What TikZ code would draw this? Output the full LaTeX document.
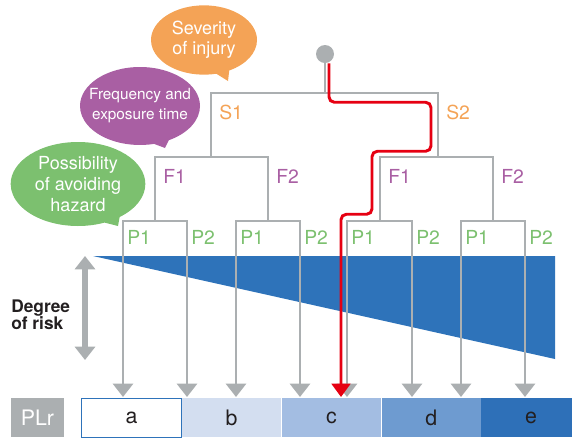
\documentclass[tikz,border=0pt]{standalone}
\usepackage{fontspec}
\setmainfont{TeX Gyre Heros}
\usetikzlibrary{arrows.meta,shapes,positioning}

\definecolor{treegray}{HTML}{ABAFB1}
\definecolor{sevorange}{HTML}{F4A356}
\definecolor{freqpurple}{HTML}{A95FA3}
\definecolor{avoidgreen}{HTML}{7CC06F}
\definecolor{riskblue}{HTML}{2E73BA}
\definecolor{plb}{HTML}{D3DEF0}
\definecolor{plc}{HTML}{A3BDE2}
\definecolor{pld}{HTML}{6E9BD0}
\definecolor{ple}{HTML}{2E70B8}
\definecolor{pathred}{HTML}{E60012}
\definecolor{inkblack}{HTML}{231F20}

\begin{document}
\begin{tikzpicture}[x=0.75pt, y=-0.75pt,
	branch/.style = {draw=treegray, line width=2pt},
	leaf/.style   = {branch, -{Triangle[width=15pt, length=10pt]}},
	bubble/.style = {ellipse callout, fill=#1, text=white, inner sep=-20pt, align=center},
	choice/.style = {text=#1, font=\fontsize{14.5}{14.5}\selectfont, inner sep=0pt, anchor=west},
	plbox/.style  = {minimum width=74.5pt, minimum height=29.25pt, inner sep=0pt, text=inkblack, font=\fontsize{16}{16}\selectfont},
	redpath/.style = {draw=pathred, line width=2.2pt, rounded corners=4pt, -{Triangle[width=14pt, length=10pt]}}
	]
	\useasboundingbox (0,0) rectangle (572,437);

	% degree of risk wedge
	\fill[riskblue] (93,256) -- (555,256) -- (555,359) -- cycle;
	\coordinate (risktop) at (85,256);
	\coordinate (riskbot) at (85,360);
	\draw[treegray, line width=5pt, {Triangle[width=15pt, length=10pt]}-{Triangle[width=15pt, length=10pt]}] (risktop) -- (riskbot);
	\node[text=inkblack, font=\bfseries\fontsize{13}{13}\selectfont, align=left, anchor=west, inner sep=0pt] (degree) at (11,315) {Degree\\of risk};

	% root and junctions of the tree
	\node[circle, fill=treegray, minimum size=13.5pt, inner sep=0pt] (root) at (325,54) {};
	\coordinate (s)   at (325,93);
	\coordinate (s1)  at (211,157);
	\coordinate (s2)  at (438,157);
	\coordinate (f11) at (155,221);
	\coordinate (f12) at (268,221);
	\coordinate (f21) at (380,221);
	\coordinate (f22) at (493,221);

	\draw[branch] (root) -- (s);
	\draw[branch] (s1) |- (s) -| (s2);
	\draw[branch] (f11) |- (s1) -| (f12);
	\draw[branch] (f21) |- (s2) -| (f22);

	% P1 / P2 leaves, arrows down to the PLr scale
	\foreach \f/\l/\r in {f11/123/187, f12/236/300, f21/347/412, f22/461/525} {
		\coordinate (\f p1) at (\l,397);
		\coordinate (\f p2) at (\r,397);
		\draw[leaf] (\f) -| (\f p1);
		\draw[leaf] (\f) -| (\f p2);
		\node[choice=avoidgreen] (lab\f p1) at (\l+4,237) {P1};
		\node[choice=avoidgreen] (lab\f p2) at (\r+4,237) {P2};
	}

	% branch labels
	\node[choice=sevorange] (labs1) at (219,112) {S1};
	\node[choice=sevorange] (labs2) at (446,112) {S2};
	\foreach \x/\t [count=\i] in {163/F1, 276/F2, 388/F1, 501/F2}
		\node[choice=freqpurple] (labf\i) at (\x,176) {\t};

	% the selected route
	\coordinate (hit) at (341,397);
	\draw[redpath] ([xshift=3pt]root.south) -- ++(0,39) -| ++(102,49) -| ++(-59,63) -| (hit);

	% parameter bubbles
	\node[bubble=sevorange, minimum width=79.5pt, minimum height=52pt, callout absolute pointer={(228,81)}, font=\fontsize{13.5}{15}\selectfont] (severity) at (204,40) {Severity\\of injury};
	\node[bubble=freqpurple, minimum width=90pt, minimum height=58.5pt, callout absolute pointer={(165,148)}, font=\fontsize{11.5}{15}\selectfont] (frequency) at (140,106) {Frequency and\\exposure time};
	\node[bubble=avoidgreen, minimum width=101pt, minimum height=63pt, callout absolute pointer={(118,226)}, font=\fontsize{13.5}{15.75}\selectfont] (avoid) at (78,184) {Possibility\\of avoiding\\hazard};

	% PLr scale
	\node[plbox, fill=treegray, text=white, minimum width=39.75pt] (plr) at (37.5,417.5) {PLr};
	\node[plbox, fill=white, draw=riskblue, line width=0.6pt] (pla) at (131.5,417.5) {a};
	\node[plbox, fill=plb, right=0pt of pla] (plb) {b};
	\node[plbox, fill=plc, right=0pt of plb] (plc) {c};
	\node[plbox, fill=pld, right=0pt of plc] (pld) {d};
	\node[plbox, fill=ple, right=0pt of pld] (ple) {e};
\end{tikzpicture}
\end{document}
